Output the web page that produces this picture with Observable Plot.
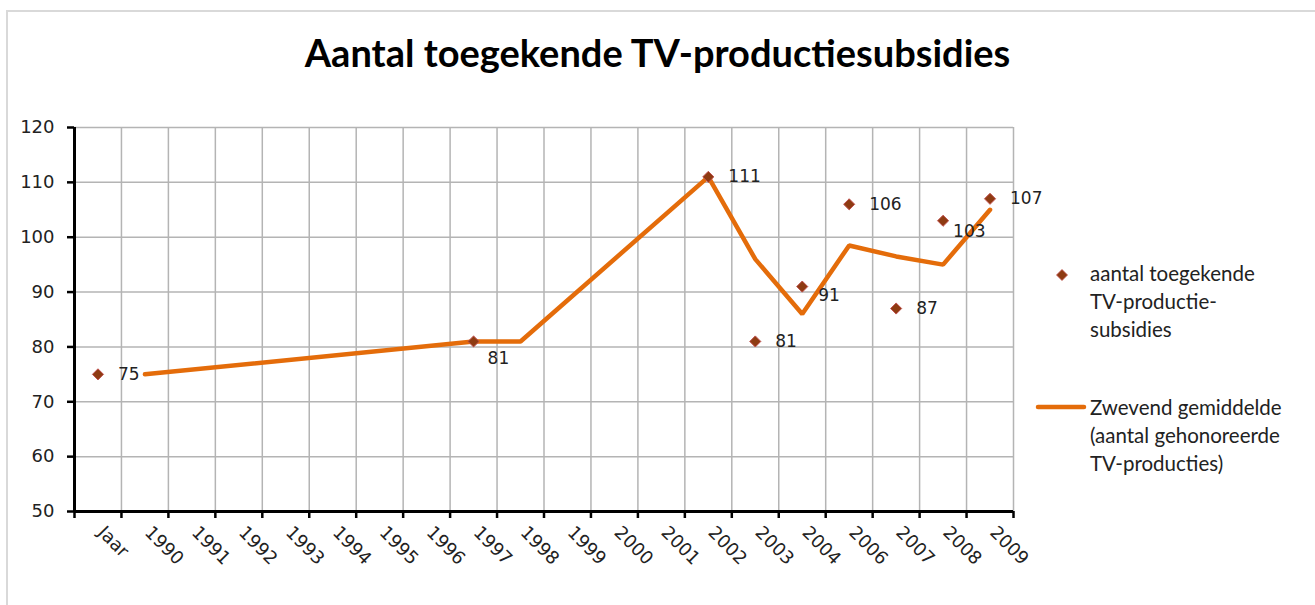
<!DOCTYPE html>
<html><head><meta charset="utf-8">
<script src="https://cdn.jsdelivr.net/npm/d3@7"></script>
<script src="https://cdn.jsdelivr.net/npm/@observablehq/plot@0.6"></script>
<style>
html,body{margin:0;padding:0;background:#fff;overflow:hidden}
#wrap{position:relative;width:1315px;height:605px;overflow:hidden}
#frame{position:absolute;left:6px;top:10px;width:1400px;height:700px;border:2px solid #d9d9d9;box-sizing:border-box}
#title{position:absolute;left:0;top:30px;width:1315px;text-align:center;font-family:Lato,sans-serif;font-weight:700;font-size:38px;line-height:44px;color:#000}
#chart{position:absolute;left:0;top:100px}
.leg{position:absolute;font-family:Lato,sans-serif;font-size:20.5px;line-height:28px;color:#222}
</style></head>
<body><div id="wrap"><div id="frame"></div><div id="title">Aantal toegekende TV-productiesubsidies</div><div id="chart"></div><div id="legend"></div></div>
<script>
const categories = ["Jaar","1990","1991","1992","1993","1994","1995","1996","1997","1998","1999","2000","2001","2002","2003","2004","2006","2007","2008","2009"];
const pointCats = ["Jaar","1997","2002","2003","2004","2006","2007","2008","2009"];
const pointValues = [75,81,111,81,91,106,87,103,107];
const avgCats = ["1990","1997","1998","2002","2003","2004","2006","2007","2008","2009"];
const avgValues = [75,81,81,111,96,86,98.5,96.5,95,105];
const yTicks = [50,60,70,80,90,100,110,120];

// label placement (styling only)
const labelOffsets = {"1997": [14, 17], "2004": [16, 9], "2008": [10, 11]};

const idx = c => categories.indexOf(c) + 0.5;
const points = pointCats.map((c, i) => ({cat: c, v: pointValues[i]}));
const avg = avgCats.map((c, i) => ({cat: c, v: avgValues[i]}));
const grid = "#b4b4b4";
const orange = "#E46C0A";

const defaultLabels = points.filter(d => !(d.cat in labelOffsets));
const labelMarks = [Plot.text(defaultLabels, {x: d => idx(d.cat), y: "v", text: d => String(d.v), textAnchor: "start", dx: 20, fill: "#222"})];
for (const [cat, [dx, dy]] of Object.entries(labelOffsets)) {
  labelMarks.push(Plot.text(points.filter(d => d.cat === cat), {x: d => idx(d.cat), y: "v", text: d => String(d.v), textAnchor: "start", dx, dy, fill: "#222"}));
}

const chart = Plot.plot({
  width: 1315, height: 505,
  marginLeft: 74, marginRight: 302, marginTop: 27, marginBottom: 94,
  style: {fontFamily: "'DejaVu Sans', sans-serif", fontSize: "17px", color: "#222", background: "transparent"},
  x: {type: "linear", domain: [0, categories.length], axis: null},
  y: {domain: [50, 120], axis: null},
  marks: [
    Plot.ruleY(yTicks.slice(1), {stroke: grid, strokeWidth: 1.5}),
    Plot.ruleX(d3.range(1, categories.length + 1), {stroke: grid, strokeWidth: 1.5}),
    Plot.axisY(yTicks, {label: null, tickSize: 7, tickPadding: 13, stroke: "#000", strokeWidth: 2.5, fill: "#222", fontSize: 18}),
    Plot.axisX(d3.range(0, categories.length + 1), {label: null, tickSize: 7, tickFormat: () => "", stroke: "#000", strokeWidth: 2.5}),
    Plot.axisX(categories.map((c, i) => i + 0.5), {label: null, tickSize: 0, tickPadding: 18, dx: 3, tickRotate: 45, tickFormat: v => categories[Math.floor(v)], fill: "#222", fontSize: 18}),
    Plot.ruleX([0], {stroke: "#000", strokeWidth: 3}),
    Plot.ruleY([50], {stroke: "#000", strokeWidth: 3}),
    Plot.line(avg, {x: d => idx(d.cat), y: "v", stroke: orange, strokeWidth: 4.5, strokeLinejoin: "miter", strokeLinecap: "round"}),
    Plot.dot(points, {x: d => idx(d.cat), y: "v", symbol: "diamond2", r: 5, fill: "#8E3B12", stroke: "#C0504D", strokeWidth: 1}),
    ...labelMarks
  ]
});
document.getElementById("chart").appendChild(chart);

// legend
const legend = document.getElementById("legend");
const ns = "http://www.w3.org/2000/svg";
function svgEl(w, h, left, top) {
  const s = document.createElementNS(ns, "svg");
  s.setAttribute("width", w); s.setAttribute("height", h);
  s.style.position = "absolute"; s.style.left = left + "px"; s.style.top = top + "px";
  legend.appendChild(s); return s;
}
const s1 = svgEl(14, 14, 1055, 268);
const p = document.createElementNS(ns, "path");
p.setAttribute("d", "M7,1.5L12.5,7L7,12.5L1.5,7Z"); p.setAttribute("fill", "#8E3B12"); p.setAttribute("stroke", "#C0504D"); p.setAttribute("stroke-width", "0.8");
s1.appendChild(p);
const s2 = svgEl(52, 10, 1035, 402);
const l = document.createElementNS(ns, "line");
l.setAttribute("x1", 3); l.setAttribute("x2", 49); l.setAttribute("y1", 5); l.setAttribute("y2", 5);
l.setAttribute("stroke", orange); l.setAttribute("stroke-width", 4.5); l.setAttribute("stroke-linecap", "round");
s2.appendChild(l);
function legText(lines, top) {
  const d = document.createElement("div");
  d.className = "leg"; d.style.left = "1090px"; d.style.top = top + "px";
  d.innerHTML = lines.join("<br>");
  legend.appendChild(d);
}
legText(["aantal toegekende", "TV-productie-", "subsidies"], 259);
legText(["Zwevend gemiddelde", "(aantal gehonoreerde", "TV-producties)"], 393);
</script>
</body></html>
